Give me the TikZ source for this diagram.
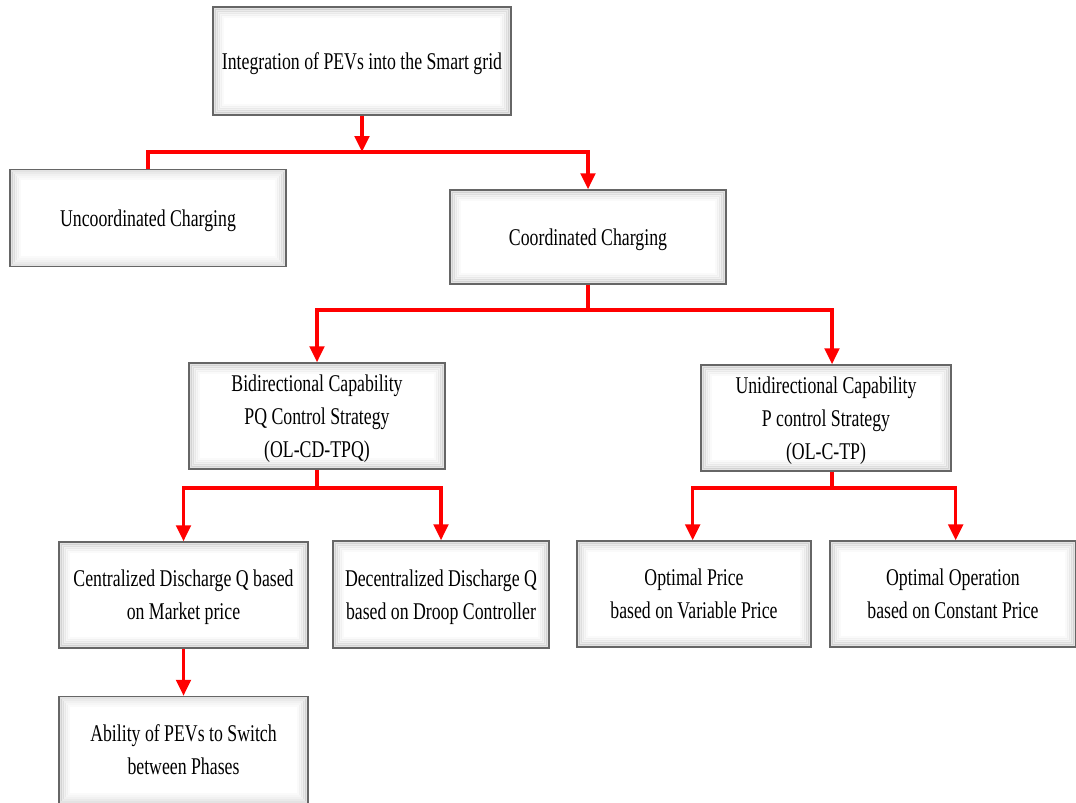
\documentclass[tikz,border=0pt]{standalone}
\usepackage{fontspec}
\setmainfont[FakeStretch=0.74]{Liberation Serif}
\usetikzlibrary{arrows.meta,calc}
\tikzset{
  box/.style={draw=gray!80!black, line width=1.1pt, fill=white, align=center,
    font=\fontsize{18}{24.75}\selectfont, inner sep=2pt, text depth=0pt,
    path picture={
      \foreach \d/\o in {1pt/0.22,2.5pt/0.16,4pt/0.11,5.5pt/0.07,7pt/0.04}{
        \draw[gray, line width=1.8pt, opacity=\o]
          ($(path picture bounding box.south west)+(\d,\d)$) rectangle
          ($(path picture bounding box.north east)-(\d,\d)$);
      }
    }},
  link/.style={draw=red, line width=2.5pt},
  arr/.style={link, -{Triangle[width=11pt,length=12pt]}},
}
\begin{document}
\begin{tikzpicture}[x=0.75pt,y=-0.75pt]
\useasboundingbox (0,0) rectangle (1076,803);
\node[box, minimum width=223.5pt, minimum height=81pt] (top) at (362,61) {Integration of PEVs into the Smart grid};
\node[box, minimum width=207pt, minimum height=72.75pt] (unc) at (148,218) {Uncoordinated Charging};
\node[box, minimum width=207pt, minimum height=70.5pt] (coo) at (588,237) {Coordinated Charging};
\node[box, minimum width=192pt, minimum height=79.5pt] (bid) at (317,416) {Bidirectional Capability\\PQ Control Strategy\\(OL-CD-TPQ)};
\node[box, minimum width=187.5pt, minimum height=79.5pt] (uni) at (826,418) {Unidirectional Capability\\P control Strategy\\(OL-C-TP)};
\node[box, minimum width=186.75pt, minimum height=79.5pt] (cen) at (183.5,595) {Centralized Discharge Q based\\on Market price};
\node[box, minimum width=162pt, minimum height=80.25pt] (dec) at (441,594.5) {Decentralized Discharge Q\\based on Droop Controller};
\node[box, minimum width=175.5pt, minimum height=79.5pt] (opp) at (694,594) {Optimal Price\\based on Variable Price};
\node[box, minimum width=184.5pt, minimum height=79.5pt] (opo) at (953,594) {Optimal Operation\\based on Constant Price};
\node[box, minimum width=186.75pt, minimum height=80.25pt] (abi) at (183.5,750) {Ability of PEVs to Switch\\between Phases};

\coordinate (j1) at (362,152);
\coordinate (j2) at (588,310);
\coordinate (j3) at (317,488);
\coordinate (j4) at (832,488);

\draw[arr] (top.south) -- (j1);
\draw[link] (unc.north) |- (j1);
\draw[arr] (j1) -| (coo.north);

\draw[link] (coo.south) -- (j2);
\draw[arr] (j2) -| (bid.north);
\draw[arr] (j2) -| ([xshift=4.5pt]uni.north);

\draw[link] (bid.south) -- (j3);
\draw[arr] (j3) -| (cen.north);
\draw[arr] (j3) -| (dec.north);

\draw[link] ([xshift=4.5pt]uni.south) -- (j4);
\draw[arr] (j4) -| ([xshift=-1pt]opp.north);
\draw[arr] (j4) -| ([xshift=2pt]opo.north);

\draw[arr] (cen.south) -- (abi.north);
\end{tikzpicture}
\end{document}
